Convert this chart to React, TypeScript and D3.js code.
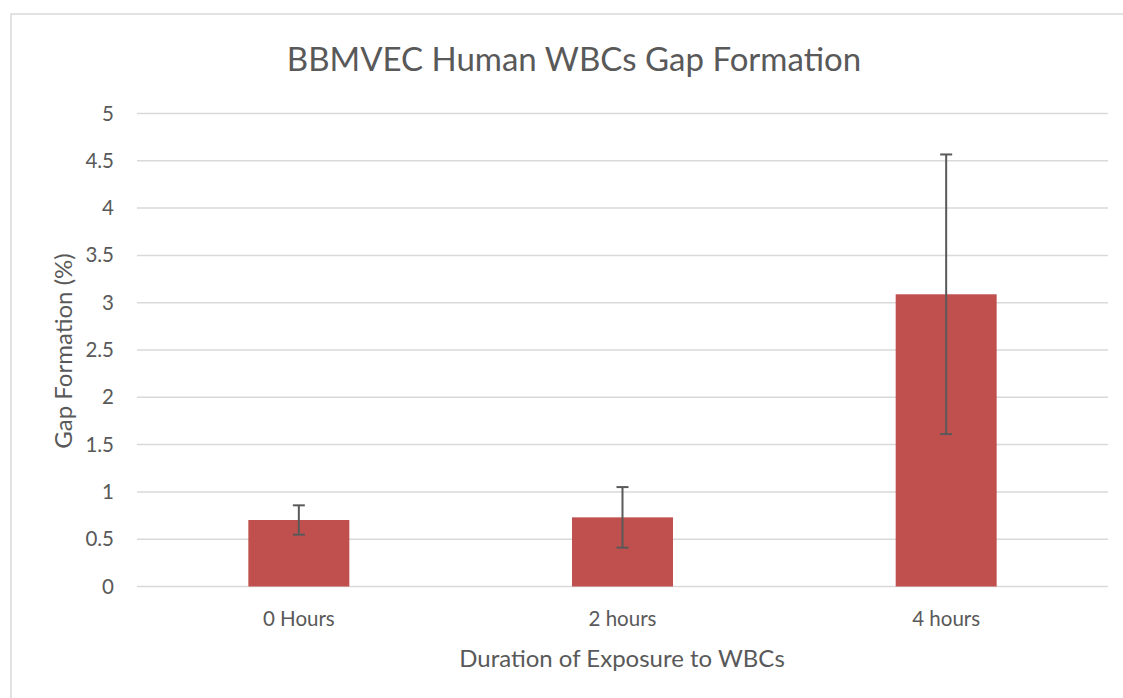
import React from "react";
import * as d3 from "d3";

const categories = ["0 Hours", "2 hours", "4 hours"];
const values = [0.703, 0.731, 3.089];
const errors = [0.155, 0.32, 1.478];
const yTicks = [0, 0.5, 1, 1.5, 2, 2.5, 3, 3.5, 4, 4.5, 5];

const W = 1123;
const H = 698;
const left = 137;
const right = 1108;
const top = 113.5;
const bottom = 586.5;
const FONT = "Lato, 'Open Sans', sans-serif";

export default function App() {
  const x = d3.scaleBand().domain(categories).range([left, right]).paddingInner(0.688).paddingOuter(0.344);
  const y = d3.scaleLinear().domain([0, 5]).range([bottom, top]);
  const capHalf = 6;
  return (
    <svg width={W} height={H} style={{ position: "absolute", left: 0, top: 0, background: "#fff" }}>
      <rect x={11} y={14} width={W} height={H} fill="#fff" stroke="#D9D9D9" strokeWidth={1.5} />
      <text x={574} y={71} textAnchor="middle" fontFamily={FONT} fontSize={33} fill="#595959">
        BBMVEC Human WBCs Gap Formation
      </text>
      {yTicks.map((t) => (
        <g key={t}>
          <line x1={left} x2={right} y1={y(t)} y2={y(t)} stroke="#D9D9D9" strokeWidth={1.5} />
          <text x={114} y={y(t) + 7} textAnchor="end" fontFamily={FONT} fontSize={20.5} fill="#595959">
            {t}
          </text>
        </g>
      ))}
      {categories.map((c, i) => {
        const bx = x(c) as number;
        const cx = bx + x.bandwidth() / 2;
        return (
          <g key={c}>
            <rect x={bx} y={y(values[i])} width={x.bandwidth()} height={y(0) - y(values[i])} fill="#C0504D" />
            <line x1={cx} x2={cx} y1={y(values[i] + errors[i])} y2={y(values[i] - errors[i])} stroke="#595959" strokeWidth={2} />
            <line x1={cx - capHalf} x2={cx + capHalf} y1={y(values[i] + errors[i])} y2={y(values[i] + errors[i])} stroke="#595959" strokeWidth={2} />
            <line x1={cx - capHalf} x2={cx + capHalf} y1={y(values[i] - errors[i])} y2={y(values[i] - errors[i])} stroke="#595959" strokeWidth={2} />
            <text x={cx} y={626} textAnchor="middle" fontFamily={FONT} fontSize={20.5} fill="#595959">
              {c}
            </text>
          </g>
        );
      })}
      <text x={622} y={667} textAnchor="middle" fontFamily={FONT} fontSize={24} fill="#595959">
        Duration of Exposure to WBCs
      </text>
      <text transform={`translate(72,351) rotate(-90)`} textAnchor="middle" fontFamily={FONT} fontSize={24} fill="#595959">
        Gap Formation (%)
      </text>
    </svg>
  );
}
